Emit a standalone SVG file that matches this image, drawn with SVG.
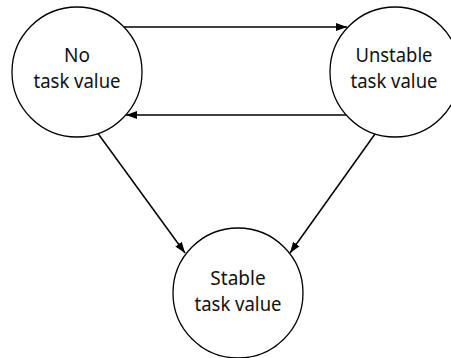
<svg xmlns="http://www.w3.org/2000/svg" width="451" height="358" viewBox="0 0 451 358">
  <style>
    .node circle { fill: #fff; stroke: #000; stroke-width: 1.3; }
    .node text { font-family: "Noto Sans", "Open Sans", sans-serif; font-size: 19px; fill: #111; text-anchor: middle; }
    .edge { fill: none; stroke: #000; stroke-width: 1.5; }
  </style>
  <defs>
    <marker id="arrow" viewBox="0 0 11 8" refX="11" refY="4" markerWidth="11" markerHeight="8" markerUnits="userSpaceOnUse" orient="auto">
      <path d="M0,0 L11,4 L0,8 Z" fill="#000"/>
    </marker>
  </defs>
  <rect width="451" height="358" fill="#fff"/>

  <g id="connectors">
    <line class="edge" x1="124" y1="27" x2="347" y2="27" marker-end="url(#arrow)"/>
    <line class="edge" x1="346" y1="115" x2="126" y2="115" marker-end="url(#arrow)"/>
    <line class="edge" x1="98" y1="133.5" x2="185" y2="253" marker-end="url(#arrow)"/>
    <line class="edge" x1="375" y1="134" x2="290" y2="253" marker-end="url(#arrow)"/>
  </g>

  <g id="no-task-value" class="node">
    <circle cx="77" cy="72" r="65"/>
    <text x="77" y="62">No</text>
    <text x="77" y="88" textLength="87" lengthAdjust="spacingAndGlyphs">task value</text>
  </g>

  <g id="unstable-task-value" class="node">
    <circle cx="395" cy="72" r="65"/>
    <text x="394" y="62" textLength="77" lengthAdjust="spacingAndGlyphs">Unstable</text>
    <text x="394" y="88" textLength="87" lengthAdjust="spacingAndGlyphs">task value</text>
  </g>

  <g id="stable-task-value" class="node">
    <circle cx="238" cy="293" r="65"/>
    <text x="238" y="285">Stable</text>
    <text x="238" y="311" textLength="87" lengthAdjust="spacingAndGlyphs">task value</text>
  </g>
</svg>
